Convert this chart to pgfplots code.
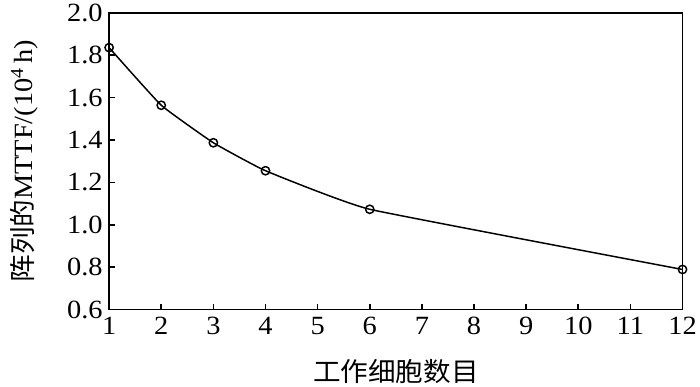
\documentclass[border=0pt]{standalone}
\usepackage{pgfplots}
\pgfplotsset{compat=1.18}
\usepackage{fontspec}
\setmainfont[FakeStretch=1.08]{Liberation Serif}
\newfontfamily\cjk[FakeStretch=1.05]{Noto Sans CJK SC}
\begin{document}
\begin{tikzpicture}
\begin{axis}[
  scale only axis, width=578bp, height=299bp,
  xmin=1, xmax=12, ymin=0.6, ymax=2.0,
  xtick={1,...,12}, ytick={0.6,0.8,...,2.0},
  yticklabel style={/pgf/number format/fixed, /pgf/number format/fixed zerofill, /pgf/number format/precision=1, xshift=-3bp},
  /pgf/number format/assume math mode=true,
  tick align=inside, tick pos=left,
  major tick length=6bp,
  axis line style={line width=1.7pt}, tick style={line width=1.7pt, black},
  ticklabel style={font=\fontsize{26.5bp}{28bp}\selectfont},
  xticklabel style={yshift=-4bp},
  xlabel={\cjk 工作细胞数目}, ylabel={{\cjk 阵列的}MTTF/(10\textsuperscript{4}\,h)},
  label style={font=\fontsize{26.5bp}{28bp}\selectfont},
  xlabel style={at={(axis description cs:0.5,0)}, anchor=center, yshift=-62bp},
  ylabel style={at={(axis description cs:0,0.5)}, anchor=center, yshift=86bp},
  clip=false,
]
\addplot[black, line width=1.5pt, mark=o, mark size=4.2bp, mark options={line width=1.5pt}, smooth, tension=0.2]
coordinates {(1,1.836) (2,1.564) (3,1.387) (4,1.255) (6,1.073) (12,0.789)};
\end{axis}
\path ([shift={(-110bp,-77bp)}]current axis.south west) rectangle ([shift={(12bp,13bp)}]current axis.north east);
\end{tikzpicture}
\end{document}
